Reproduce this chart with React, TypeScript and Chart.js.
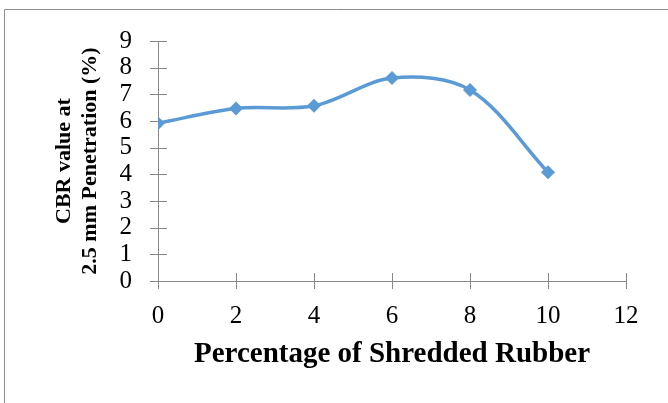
import React, { useEffect, useRef } from "react";
import { Chart, registerables } from "chart.js";

Chart.register(...registerables);

const rubberPercent = [0, 2, 4, 6, 8, 10];
const cbrValues = [5.92, 6.47, 6.57, 7.61, 7.16, 4.08];
const xTickValues = [0, 2, 4, 6, 8, 10, 12];
const yTickValues = [0, 1, 2, 3, 4, 5, 6, 7, 8, 9];
const xTitle = "Percentage of Shredded Rubber";
const yTitle = ["CBR value at", "2.5 mm Penetration (%)"];

const AXIS_COLOR = "#878787";
const SERIF = "'Liberation Serif', 'Times New Roman', serif";

const crossTicks = {
  id: "crossTicks",
  beforeDatasetsDraw(chart: any) {
    const ctx = chart.ctx;
    const xs = chart.scales.x;
    const ys = chart.scales.y;
    const area = chart.chartArea;
    ctx.save();
    ctx.strokeStyle = AXIS_COLOR;
    ctx.lineWidth = 1;
    ctx.beginPath();
    yTickValues.forEach((v) => {
      const py = Math.round(ys.getPixelForValue(v)) + 0.5;
      ctx.moveTo(area.left - 8, py);
      ctx.lineTo(area.left + 9, py);
    });
    xTickValues.forEach((v) => {
      const px = Math.round(xs.getPixelForValue(v)) + 0.5;
      ctx.moveTo(px, area.bottom - 8);
      ctx.lineTo(px, area.bottom + 8);
    });
    ctx.stroke();
    ctx.restore();
  },
};

const frame = {
  id: "frame",
  beforeDraw(chart: any) {
    const ctx = chart.ctx;
    ctx.save();
    ctx.fillStyle = "#ffffff";
    ctx.fillRect(0, 0, chart.width, chart.height);
    ctx.strokeStyle = "#8e8e8e";
    ctx.lineWidth = 1;
    ctx.beginPath();
    ctx.moveTo(4.5, chart.height);
    ctx.lineTo(4.5, 9.5);
    ctx.lineTo(chart.width, 9.5);
    ctx.stroke();
    ctx.restore();
  },
};

export default function App() {
  const ref = useRef<HTMLCanvasElement>(null);

  useEffect(() => {
    if (!ref.current) return;
    const chart = new Chart(ref.current, {
      type: "line",
      data: {
        datasets: [
          {
            data: rubberPercent.map((x, i) => ({ x, y: cbrValues[i] })),
            borderColor: "#5B9BD5",
            backgroundColor: "#5B9BD5",
            borderWidth: 3.5,
            pointStyle: "rectRot",
            pointRadius: 7,
            pointBorderWidth: 0,
            tension: 0.33,
            fill: false,
          },
        ],
      },
      options: {
        responsive: false,
        animation: false,
        layout: { padding: { left: 0, top: 40, right: 42, bottom: 0 } },
        plugins: {
          legend: { display: false },
          tooltip: { enabled: false },
        },
        scales: {
          x: {
            type: "linear",
            min: 0,
            max: 12,
            afterFit(s: any) {
              s.height = 122;
            },
            afterBuildTicks(s: any) {
              s.ticks = xTickValues.map((v) => ({ value: v }));
            },
            grid: { display: false, drawTicks: false },
            border: { display: true, color: AXIS_COLOR, width: 1 },
            ticks: {
              autoSkip: false,
              maxRotation: 0,
              padding: 20,
              color: "#000",
              font: { family: SERIF, size: 25 },
            },
            title: {
              display: true,
              text: xTitle,
              color: "#000",
              padding: { top: 0, bottom: 31 },
              font: { family: SERIF, size: 29, weight: "bold" },
            },
          },
          y: {
            type: "linear",
            min: 0,
            max: 9,
            afterFit(s: any) {
              s.width = 158;
            },
            afterBuildTicks(s: any) {
              s.ticks = yTickValues.map((v) => ({ value: v }));
            },
            grid: { display: false, drawTicks: false },
            border: { display: true, color: AXIS_COLOR, width: 1 },
            ticks: {
              autoSkip: false,
              padding: 26,
              color: "#000",
              font: { family: SERIF, size: 25 },
            },
            title: {
              display: true,
              text: yTitle,
              color: "#000",
              padding: { top: 52, bottom: 0 },
              font: { family: SERIF, size: 22, weight: "bold", lineHeight: 1.15 },
            },
          },
        },
      },
      plugins: [frame, crossTicks],
    });
    return () => chart.destroy();
  }, []);

  return (
    <div style={{ position: "absolute", left: 0, top: 0, width: 668, height: 403 }}>
      <canvas ref={ref} width={668} height={403} style={{ display: "block" }} />
    </div>
  );
}
